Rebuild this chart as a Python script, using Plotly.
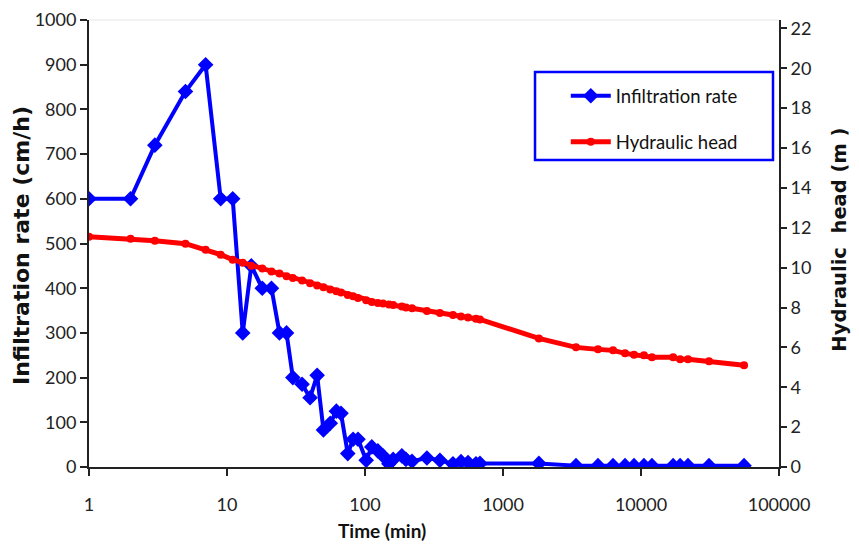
import plotly.graph_objects as go

time_min = [1, 2, 3, 5, 7, 9, 11, 13, 15, 18, 21, 24, 27, 30, 35, 40, 45, 50, 56, 62, 67, 75, 82, 89,
            102, 112, 124, 135, 149, 160, 185, 198, 219, 281, 349, 434, 496, 558, 637, 681,
            1820, 3380, 4880, 6270, 7660, 8900, 10500, 12000, 17100, 19200, 21900, 31100, 55800]

infiltration_rate = [600, 600, 720, 840, 900, 600, 600, 300, 450, 400, 400, 300, 300, 200, 185, 155, 205, 83, 98, 125, 120, 30, 62, 62,
                     15, 45, 36, 25, 7, 17, 25, 17, 13, 20, 15, 7, 12, 10, 7, 8,
                     8, 3, 3, 3, 3, 3, 3, 3, 3, 3, 3, 3, 3]

hydraulic_head = [11.55, 11.45, 11.35, 11.2, 10.9, 10.65, 10.4, 10.25, 10.1, 9.95, 9.8, 9.7, 9.57, 9.48, 9.35, 9.22, 9.1, 9.02, 8.9, 8.82, 8.75, 8.63, 8.56, 8.48,
                  8.36, 8.28, 8.23, 8.2, 8.15, 8.12, 8.05, 8.0, 7.96, 7.83, 7.72, 7.62, 7.55, 7.5, 7.43, 7.4,
                  6.45, 6.0, 5.9, 5.85, 5.7, 5.63, 5.6, 5.5, 5.5, 5.4, 5.4, 5.3, 5.1]

x_tick_vals = [1, 10, 100, 1000, 10000, 100000]
x_tick_text = ["1", "10", "100", "1000", "10000", "100000"]
left_ticks = [0, 100, 200, 300, 400, 500, 600, 700, 800, 900, 1000]
right_ticks = [0, 2, 4, 6, 8, 10, 12, 14, 16, 18, 20, 22]

FONT = "Lato, 'Open Sans', sans-serif"
BOLDT = "'DejaVu Sans', sans-serif"

fig = go.Figure()
fig.add_trace(go.Scatter(
    x=time_min, y=infiltration_rate, name="Infiltration rate", mode="lines+markers",
    line=dict(color="#0000FF", width=4), marker=dict(symbol="diamond", size=12, color="#0000FF"),
    legendgroup="a", yaxis="y"))
fig.add_trace(go.Scatter(
    x=time_min, y=hydraulic_head, name="Hydraulic head", mode="lines+markers",
    line=dict(color="#FF0000", width=5), marker=dict(symbol="circle", size=8, color="#FF0000"),
    legendgroup="b", yaxis="y2"))

axis_common = dict(showgrid=False, zeroline=False, showline=True, linecolor="#222222", linewidth=2,
                   ticks="outside", tickwidth=1.5, tickcolor="#222222", automargin=False,
                   ticklabeloverflow="allow")

fig.update_layout(
    width=851, height=542,
    margin=dict(l=81, r=80, t=12, b=83),
    paper_bgcolor="white", plot_bgcolor="white",
    font=dict(family=FONT, size=18, color="#222222"),
    showlegend=True,
    legend=dict(x=0.691, y=0.872, xanchor="left", yanchor="top", bgcolor="rgba(0,0,0,0)",
                borderwidth=0, font=dict(family=FONT, size=18.5, color="#111111"), tracegroupgap=19,
                itemwidth=40),
    xaxis=dict(type="log", range=[0, 5], tickvals=x_tick_vals, ticktext=x_tick_text,
               ticklen=7, ticklabelstandoff=13, **axis_common),
    yaxis=dict(range=[0, 1000], tickvals=left_ticks, ticklen=7, **axis_common),
    yaxis2=dict(range=[0, 22.42], tickvals=right_ticks, overlaying="y", side="right",
                ticklen=6, **axis_common),
)

# axis titles
fig.add_annotation(text="<b>Time (min)</b>", xref="paper", yref="paper", x=0.4246, y=-0.141,
                   xanchor="center", yanchor="middle", showarrow=False,
                   font=dict(family=FONT, size=19, color="#111111"))
fig.add_annotation(text="<b>Infiltration rate (cm/h)</b>", xref="paper", yref="paper", x=-0.0986, y=0.4966,
                   xanchor="center", yanchor="middle", showarrow=False, textangle=-90,
                   font=dict(family=BOLDT, size=22, color="#111111"))
fig.add_annotation(text="<b>Hydraulic  head (m )</b>", xref="paper", yref="paper", x=1.088, y=0.508,
                   xanchor="center", yanchor="middle", showarrow=False, textangle=-90,
                   font=dict(family=BOLDT, size=19.5, color="#111111"))

# legend frame
fig.add_shape(type="rect", xref="paper", yref="paper", x0=0.6464, x1=0.9913, y0=0.6868, y1=0.8837,
              line=dict(color="#0000FF", width=2.5), fillcolor="rgba(0,0,0,0)")
# faint top border of plot area
fig.add_shape(type="line", xref="paper", yref="paper", x0=0, x1=1, y0=1, y1=1,
              line=dict(color="#e6e6e6", width=1))

fig.write_html("out.html")
